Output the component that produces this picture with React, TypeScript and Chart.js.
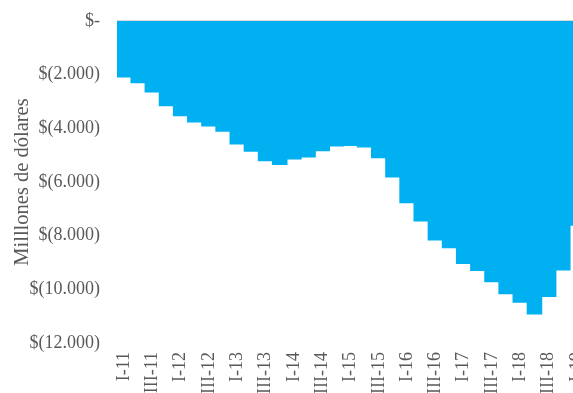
import React, { useEffect, useRef } from "react";
import { Chart, registerables } from "chart.js";

Chart.register(...registerables);

const categories = [
  "I-11", "II-11", "III-11", "IV-11",
  "I-12", "II-12", "III-12", "IV-12",
  "I-13", "II-13", "III-13", "IV-13",
  "I-14", "II-14", "III-14", "IV-14",
  "I-15", "II-15", "III-15", "IV-15",
  "I-16", "II-16", "III-16", "IV-16",
  "I-17", "II-17", "III-17", "IV-17",
  "I-18", "II-18", "III-18", "IV-18",
  "I-19",
];

const values = [
  -2080, -2290, -2640, -3150, -3520, -3760, -3910, -4100,
  -4580, -4850, -5200, -5340, -5140, -5060, -4830, -4650,
  -4630, -4690, -5090, -5810, -6770, -7450, -8150, -8440,
  -9030, -9290, -9710, -10160, -10470, -10910, -10260, -9270,
  -7600,
];

const yMin = -12000;
const yMax = 0;
const yStep = 2000;
const yTitle = "Milllones de dólares";

const BAR_COLOR = "#00B0F0";
const TEXT_COLOR = "#595959";
const FONT = "'Liberation Serif', 'Times New Roman', serif";

function fmt(v: number): string {
  if (v === 0) return "$-";
  const s = Math.abs(v).toString().replace(/\B(?=(\d{3})+(?!\d))/g, ".");
  return v < 0 ? "$(" + s + ")" : "$" + s;
}

export default function App() {
  const ref = useRef<HTMLCanvasElement | null>(null);

  useEffect(() => {
    if (!ref.current) return;
    const chart = new Chart(ref.current, {
      type: "bar",
      data: {
        labels: categories,
        datasets: [
          {
            data: values,
            backgroundColor: BAR_COLOR,
            borderWidth: 0,
            barPercentage: 1,
            categoryPercentage: 1,
            inflateAmount: 0.7,
          } as any,
        ],
      },
      options: {
        responsive: false,
        animation: false,
        devicePixelRatio: 1,
        layout: { padding: { top: 21, left: 0, right: 0, bottom: 0 } },
        plugins: {
          legend: { display: false },
          tooltip: { enabled: false },
        },
        scales: {
          x: {
            position: "bottom",
            grid: { display: false, drawTicks: false },
            border: { display: false },
            ticks: {
              autoSkip: false,
              maxRotation: 90,
              minRotation: 90,
              padding: 9,
              color: TEXT_COLOR,
              font: { family: FONT, size: 18 },
              callback: (_v: any, i: number) => (i % 2 === 0 ? categories[i] : ""),
            },
            afterFit: (scale: any) => {
              scale.height = 87;
              scale.paddingLeft = 0;
              scale.paddingRight = 0;
            },
          },
          y: {
            min: yMin,
            max: yMax,
            z: 1,
            grid: {
              drawTicks: false,
              color: (ctx: any) => (ctx.tick && ctx.tick.value === 0 ? "#D9D9D9" : "rgba(0,0,0,0)"),
              lineWidth: 1.5,
            },
            border: { display: false },
            ticks: {
              stepSize: yStep,
              padding: 17,
              color: TEXT_COLOR,
              font: { family: FONT, size: 18 },
              callback: (v: any) => fmt(Number(v)),
            },
            title: {
              display: true,
              text: yTitle,
              color: TEXT_COLOR,
              font: { family: FONT, size: 20.5 },
              padding: { top: 10, bottom: 0 },
            },
            afterFit: (scale: any) => {
              scale.width = 117;
              scale.paddingTop = 0;
              scale.paddingBottom = 0;
            },
          },
        },
      },
    });
    return () => chart.destroy();
  }, []);

  return (
    <div
      style={{
        position: "fixed",
        left: 0,
        top: 0,
        width: 573,
        height: 393,
        overflow: "hidden",
        background: "#ffffff",
      }}
    >
      <canvas ref={ref} width={584} height={430} style={{ display: "block" }} />
    </div>
  );
}
